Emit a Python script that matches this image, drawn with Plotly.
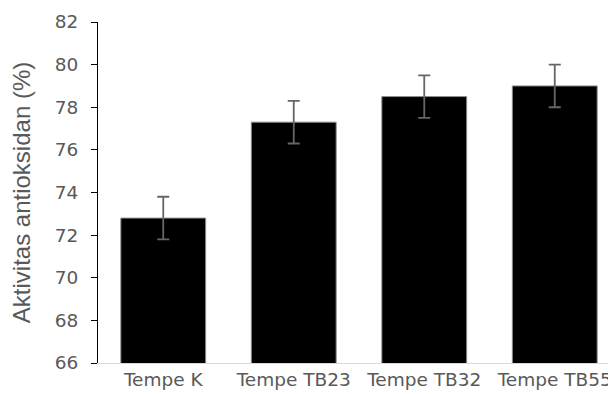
import plotly.graph_objects as go

categories = ["Tempe K", "Tempe TB23", "Tempe TB32", "Tempe TB55"]
values = [72.8, 77.3, 78.5, 79.0]
errors = [1.0, 1.0, 1.0, 1.0]
y_ticks = [66, 68, 70, 72, 74, 76, 78, 80, 82]

FONT = "Liberation Sans, Arial, sans-serif"
TICKFONT = "DejaVu Sans, Liberation Sans, sans-serif"
GREY = "#595959"

fig = go.Figure()
fig.add_trace(go.Bar(
    x=list(range(len(categories))),
    y=values,
    width=0.65,
    marker=dict(color="black", line=dict(color="#8c8c8c", width=1)),
    error_y=dict(type="data", array=errors, visible=True, color="#666666", thickness=1.8, width=6),
))

fig.update_layout(
    width=616, height=394,
    margin=dict(l=90, r=4, t=14, b=39, autoexpand=False),
    paper_bgcolor="white", plot_bgcolor="white",
    font=dict(family=FONT, color=GREY),
    showlegend=False,
)
fig.update_xaxes(
    range=[-0.5, 3.5],
    tickmode="array", tickvals=list(range(len(categories))), ticktext=categories,
    tickfont=dict(family=TICKFONT, size=18.5, color=GREY),
    ticklabelstandoff=0,
    showline=True, linecolor="#d9d9d9", linewidth=1,
    showgrid=False, ticks="", zeroline=False,
)
fig.update_yaxes(
    range=[66, 82],
    tickmode="array", tickvals=y_ticks,
    tickfont=dict(family=TICKFONT, size=18.5, color=GREY),
    ticklabelstandoff=9,
    title=dict(text="Aktivitas antioksidan (%)", font=dict(family=FONT, size=24, color=GREY), standoff=19),
    showline=True, linecolor="black", linewidth=1.2,
    ticks="outside", ticklen=6, tickcolor="black", tickwidth=1,
    showgrid=False, zeroline=False,
)

fig.write_html("out.html")
